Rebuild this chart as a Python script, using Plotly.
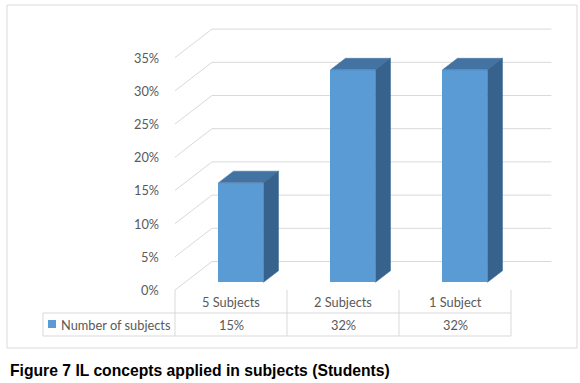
import plotly.graph_objects as go

# ---------------- data ----------------
categories = ["5 Subjects", "2 Subjects", "1 Subject"]
values = [15, 32, 32]  # percent
value_labels = ["15%", "32%", "32%"]
series_name = "Number of subjects"
y_ticks = [0, 5, 10, 15, 20, 25, 30, 35]
tick_labels = ["0%", "5%", "10%", "15%", "20%", "25%", "30%", "35%"]
caption = "Figure 7 IL concepts applied in subjects (Students)"

# ---------------- geometry / style ----------------
W, H = 580, 383
CAT_PX = 112.0      # pixels per category
PCT_PX = 6.64       # pixels per percent
X0_PX = 175.0       # left edge of first category (front)
Y0_PX = 290.0       # front floor


def xr(px):
    return (px - X0_PX) / CAT_PX - 0.5


def yr(py):
    return (Y0_PX - py) / PCT_PX


DX = 37.0 / CAT_PX          # full depth, x shift (data units)
DY = 28.5 / PCT_PX          # full depth, y shift (data units)
F0, F1 = 0.27, 0.675        # bar depth start / end fraction
BAR_W = 45.0 / CAT_PX

GRID = "#d9d9d9"
TXT = "#595959"
FRONT = "#5B9BD5"
TOP = "#4273A3"
SIDE = "#37628C"
FONT = "Lato"
FS = 12.8

n = len(categories)
fig = go.Figure()

# gridlines (walls) as shapes below traces
shapes = []
x_left = -0.5
x_right = n - 0.5
for t in y_ticks:
    shapes.append(dict(type="line", xref="x", yref="y", layer="below",
                       x0=x_left, y0=t, x1=x_left + DX, y1=t + DY,
                       line=dict(color=GRID, width=1)))
    shapes.append(dict(type="line", xref="x", yref="y", layer="below",
                       x0=x_left + DX, y0=t + DY, x1=x_right + DX + 0.03, y1=t + DY,
                       line=dict(color=GRID, width=1)))

# front faces of the bars
bx = [i + F0 * DX for i in range(n)]
base = F0 * DY
fig.add_trace(go.Bar(x=bx, y=values, base=base, width=BAR_W,
                     marker=dict(color=FRONT, line=dict(width=0)),
                     name=series_name, showlegend=False, hoverinfo="skip"))

# top and side faces
ddx = (F1 - F0) * DX
ddy = (F1 - F0) * DY
top_x, top_y, side_x, side_y = [], [], [], []
for c, v in zip(bx, values):
    xl, xrt = c - BAR_W / 2, c + BAR_W / 2
    tp = base + v
    top_x += [xl, xrt, xrt + ddx, xl + ddx, xl, None]
    top_y += [tp, tp, tp + ddy, tp + ddy, tp, None]
    side_x += [xrt, xrt, xrt + ddx, xrt + ddx, xrt, None]
    side_y += [base, tp, tp + ddy, base + ddy, base, None]
fig.add_trace(go.Scatter(x=top_x, y=top_y, mode="lines", fill="toself",
                         fillcolor=TOP, line=dict(color=TOP, width=0.5),
                         showlegend=False, hoverinfo="skip"))
fig.add_trace(go.Scatter(x=side_x, y=side_y, mode="lines", fill="toself",
                         fillcolor=SIDE, line=dict(color=SIDE, width=0.5),
                         showlegend=False, hoverinfo="skip"))

annotations = []
# value axis tick labels
for t, lab in zip(y_ticks, tick_labels):
    annotations.append(dict(x=xr(161), y=t, xref="x", yref="y", text=lab,
                            showarrow=False, xanchor="right", yanchor="middle",
                            font=dict(family=FONT, size=FS, color=TXT)))

# data table
row1_top, row1_bot, row2_bot = yr(290), yr(313), yr(336)
tbl_left = xr(43)
for k in range(n + 1):
    xk = -0.5 + k
    shapes.append(dict(type="line", xref="x", yref="y", x0=xk, x1=xk,
                       y0=row1_top, y1=row2_bot, line=dict(color=GRID, width=1)))
shapes.append(dict(type="line", xref="x", yref="y", x0=tbl_left, x1=tbl_left,
                   y0=row1_bot, y1=row2_bot, line=dict(color=GRID, width=1)))
for yy in (row1_bot, row2_bot):
    shapes.append(dict(type="line", xref="x", yref="y", x0=tbl_left, x1=x_right,
                       y0=yy, y1=yy, line=dict(color=GRID, width=1)))
for i, (cat, lab) in enumerate(zip(categories, value_labels)):
    annotations.append(dict(x=i, y=(row1_top + row1_bot) / 2, xref="x", yref="y",
                            text=cat, showarrow=False, yanchor="middle",
                            font=dict(family=FONT, size=FS, color=TXT)))
    annotations.append(dict(x=i, y=(row1_bot + row2_bot) / 2, xref="x", yref="y",
                            text=lab, showarrow=False, yanchor="middle",
                            font=dict(family=FONT, size=FS, color=TXT)))
# legend key + series name
shapes.append(dict(type="rect", xref="x", yref="y", x0=xr(48), x1=xr(56),
                   y0=yr(320), y1=yr(328), fillcolor=FRONT, line=dict(width=0)))
annotations.append(dict(x=xr(59), y=(row1_bot + row2_bot) / 2, xref="x", yref="y",
                        text=series_name, showarrow=False, xanchor="left",
                        yanchor="middle", font=dict(family=FONT, size=FS, color=TXT)))

# chart border
shapes.append(dict(type="rect", xref="paper", yref="paper",
                   x0=7 / W, x1=577 / W, y0=1 - 348 / H, y1=1 - 5 / H,
                   line=dict(color=GRID, width=1), layer="below"))
# caption
annotations.append(dict(x=8 / W, y=1 - 370.5 / H, xref="paper", yref="paper",
                        text=caption, showarrow=False, xanchor="left", yanchor="middle",
                        font=dict(family="Liberation Sans", size=15.7, color="#000000",
                                  weight="bold")))

fig.update_layout(
    width=W, height=H, margin=dict(l=0, r=0, t=0, b=0),
    paper_bgcolor="white", plot_bgcolor="white",
    xaxis=dict(visible=False, range=[xr(0), xr(W)], fixedrange=True),
    yaxis=dict(visible=False, range=[yr(H), yr(0)], fixedrange=True),
    shapes=shapes, annotations=annotations, showlegend=False, bargap=0,
)

fig.write_html("out.html", config={"displayModeBar": False},
               post_script="document.body.style.margin='0';document.body.style.overflow='hidden';")
